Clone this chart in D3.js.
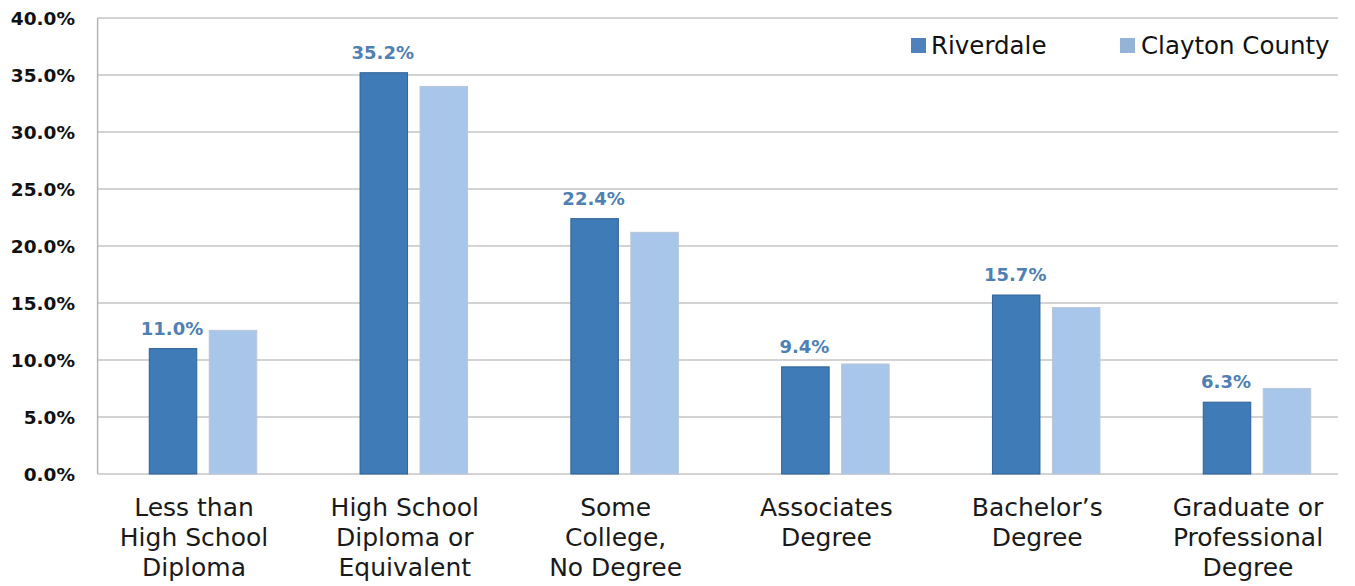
<!DOCTYPE html>
<html>
<head>
<meta charset="utf-8">
<script src="https://cdn.jsdelivr.net/npm/d3@7/dist/d3.min.js"></script>
<style>
  html, body { margin: 0; padding: 0; background: #fff; }
  svg { display: block; }
</style>
</head>
<body>
<svg id="chart" width="1355" height="586"></svg>
<script>
// Educational attainment, Riverdale vs. Clayton County (percent of adults 25+)
const categories = [
  ["Less than", "High School", "Diploma"],
  ["High School", "Diploma or", "Equivalent"],
  ["Some", "College,", "No Degree"],
  ["Associates", "Degree"],
  ["Bachelor\u2019s", "Degree"],
  ["Graduate or", "Professional", "Degree"]
];
const seriesNames = ["Riverdale", "Clayton County"];
const riverdale = [11.0, 35.2, 22.4, 9.4, 15.7, 6.3];
const claytonCounty = [12.6, 34.0, 21.2, 9.65, 14.6, 7.5];
const yTicks = [0, 5, 10, 15, 20, 25, 30, 35, 40];

const colors = { "Riverdale": "#3f7bb7", "Clayton County": "#a8c5ea" };
const strokes = { "Riverdale": "#2f6298", "Clayton County": "#b8c6d8" };
const legendColors = { "Riverdale": "#4f81bd", "Clayton County": "#95b3d7" };

const svg = d3.select("#chart");
const font = "'DejaVu Sans', sans-serif";

const catKeys = categories.map(c => c.join(" "));
const rows = catKeys.map((k, i) => ({
  key: k, lines: categories[i],
  values: [
    { series: seriesNames[0], value: riverdale[i] },
    { series: seriesNames[1], value: claytonCounty[i] }
  ]
}));

const plotLeft = 97.6, plotTop = 18, plotBottom = 474, gridRight = 1338;
const x0 = d3.scaleBand().domain(catKeys).range([plotLeft, 1362.4]).paddingInner(0).paddingOuter(0);
const bw = x0.bandwidth();
const x1 = d3.scaleBand().domain(seriesNames)
  .range([bw / 2 - 53.75, bw / 2 + 53.75]).paddingInner(12.5 / 60).paddingOuter(0);
const y = d3.scaleLinear().domain([0, 40]).range([plotBottom, plotTop]);

// Horizontal gridlines
svg.append("g").selectAll("line").data(yTicks).join("line")
  .attr("x1", plotLeft).attr("x2", gridRight)
  .attr("y1", d => y(d)).attr("y2", d => y(d))
  .attr("stroke", "#c4c4c4").attr("stroke-width", 1.5);

// Left axis line
svg.append("line")
  .attr("x1", plotLeft).attr("x2", plotLeft)
  .attr("y1", y(40)).attr("y2", y(0))
  .attr("stroke", "#b4b4b4").attr("stroke-width", 1.5);

// Y tick labels
svg.append("g").selectAll("text").data(yTicks).join("text")
  .attr("x", 75).attr("y", d => y(d)).attr("dy", "0.36em")
  .attr("text-anchor", "end")
  .attr("font-family", font).attr("font-weight", "bold").attr("font-size", 18.5)
  .attr("fill", "#111")
  .text(d => d.toFixed(1) + "%");

// Bars
const groups = svg.append("g").selectAll("g").data(rows).join("g")
  .attr("transform", d => `translate(${x0(d.key)},0)`);

groups.selectAll("rect").data(d => d.values).join("rect")
  .attr("x", d => x1(d.series))
  .attr("width", x1.bandwidth())
  .attr("y", d => y(d.value))
  .attr("height", d => y(0) - y(d.value))
  .attr("fill", d => colors[d.series])
  .attr("stroke", d => strokes[d.series])
  .attr("stroke-width", 1);

// Value labels on Riverdale bars
groups.append("text")
  .attr("x", x1(seriesNames[0]) + x1.bandwidth() / 2 - 1)
  .attr("y", d => y(d.values[0].value) - 14)
  .attr("text-anchor", "middle")
  .attr("font-family", font).attr("font-weight", "bold").attr("font-size", 18)
  .attr("fill", "#4f7fb3")
  .text(d => d.values[0].value.toFixed(1) + "%");

// Category labels
const catLabels = svg.append("g").selectAll("text").data(rows).join("text")
  .attr("text-anchor", "middle")
  .attr("font-family", font).attr("font-size", 25).attr("fill", "#1a1a1a")
  .attr("transform", d => `translate(${x0(d.key) + bw / 2 - 9},516)`);
catLabels.selectAll("tspan").data(d => d.lines).join("tspan")
  .attr("x", 0).attr("y", (d, i) => i * 30)
  .text(d => d);

// Legend
const legendItems = [
  { name: seriesNames[0], sx: 911, tx: 931 },
  { name: seriesNames[1], sx: 1120, tx: 1141 }
];
const lg = svg.append("g");
lg.selectAll("rect").data(legendItems).join("rect")
  .attr("x", d => d.sx).attr("y", 38).attr("width", 15).attr("height", 15)
  .attr("fill", d => legendColors[d.name]);
lg.selectAll("text").data(legendItems).join("text")
  .attr("x", d => d.tx).attr("y", 54)
  .attr("font-family", font).attr("font-size", 24.5).attr("fill", "#111")
  .text(d => d.name);
</script>
</body>
</html>
